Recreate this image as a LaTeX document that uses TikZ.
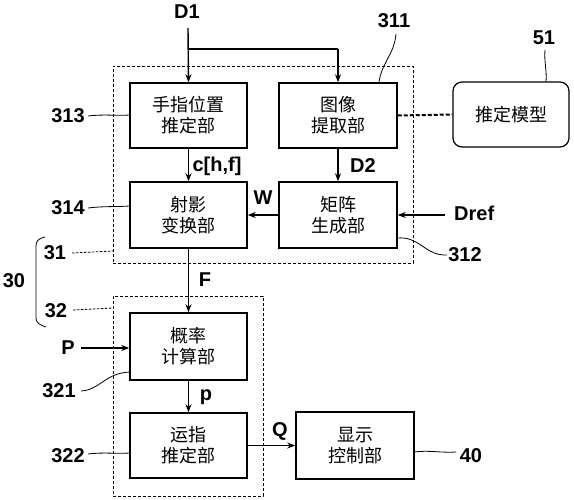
\documentclass[tikz,border=0pt]{standalone}
\usepackage{fontspec}
\setmainfont{Liberation Sans}
\newfontfamily\cjk{Noto Sans CJK SC}
\usetikzlibrary{arrows.meta}
\tikzset{
  blk/.style={draw, line width=1.5pt, inner sep=0pt, align=center,
    font=\cjk\fontsize{18}{21}\selectfont},
  grp/.style={draw, dashed, line width=0.9pt, inner sep=0pt, dash pattern=on 3pt off 2pt},
  lbl/.style={anchor=base, inner sep=1pt, font=\bfseries\fontsize{20}{22}\selectfont},
  arr/.style={line width=1.4pt, -{Stealth[length=8pt,width=6pt]}},
  ldr/.style={line width=0.8pt},
  dldr/.style={line width=0.8pt, dashed, dash pattern=on 2.5pt off 1.5pt},
}
\begin{document}
\begin{tikzpicture}[x=1pt,y=-1pt]
\useasboundingbox (0,0) rectangle (574,500);
% group boxes
\node[grp, minimum width=300pt, minimum height=197pt] (g31) at (263,164.5) {};
\node[grp, minimum width=150pt, minimum height=200pt] (g32) at (188,396) {};
% blocks
\node[blk, minimum width=117pt, minimum height=65pt] (b313) at (188.5,115.5) {手指位置\\推定部};
\node[blk, minimum width=118pt, minimum height=65pt] (b311) at (338,115.5) {图像\\提取部};
\node[blk, minimum width=117pt, minimum height=66pt] (b314) at (188.5,215) {射影\\变换部};
\node[blk, minimum width=118pt, minimum height=66pt] (b312) at (338,215) {矩阵\\生成部};
\node[blk, rounded corners=9pt, line width=1.2pt, minimum width=116pt, minimum height=65pt] (b51) at (511,114.5) {推定模型};
\node[blk, minimum width=117pt, minimum height=67pt] (b321) at (188.5,346.5) {概率\\计算部};
\node[blk, minimum width=117pt, minimum height=65pt] (b322) at (188.5,445.5) {运指\\推定部};
\node[blk, minimum width=118pt, minimum height=67pt] (b40) at (355,445.5) {显示\\控制部};
% signal labels
\node[lbl] (d1) at (187,19) {D1};
\node[lbl] (chf) at (217,172) {c[h,f]};
\node[lbl] (d2) at (363,173) {D2};
\node[lbl] (w) at (263,205) {W};
\node[lbl, anchor=base west] (dref) at (453,221) {Dref};
\node[lbl] (f) at (205,287) {F};
\node[lbl] (pp) at (68,355) {P};
\node[lbl] (ps) at (206,400) {p};
\node[lbl] (q) at (280,436) {Q};
% reference numerals
\node[lbl] (n311) at (394,28) {311};
\node[lbl] (n51) at (544,45) {51};
\node[lbl] (n313) at (68,123) {313};
\node[lbl] (n314) at (68,215) {314};
\node[lbl] (n312) at (465,262) {312};
\node[lbl] (n31) at (55,260) {31};
\node[lbl] (n32) at (56,318) {32};
\node[lbl] (n30) at (14,288) {30};
\node[lbl] (n321) at (59,397) {321};
\node[lbl] (n322) at (68,462) {322};
\node[lbl] (n40) at (471,462) {40};
% connectors
\coordinate (d1s) at (188,28);
\coordinate (br) at (188,49);
\coordinate (brr) at (338,49);
\draw[arr] (d1s) -- (b313.north);
\draw[line width=1.4pt] (br) -- (brr);
\draw[arr] (brr) -- (b311.north);
\draw[arr] (b313.south) -- (b314.north);
\draw[arr] (b311.south) -- (b312.north);
\draw[arr] (b312.west) -- (b314.east);
\coordinate (drefs) at (445,215);
\draw[arr] (drefs) -- (b312.east);
\draw[line width=2pt, dashed, dash pattern=on 4pt off 2pt] (b311.east) -- (b51.west);
\draw[arr] (b314.south) -- (b321.north);
\coordinate (ps0) at (81,348);
\draw[arr] (ps0) -- (b321.west |- ps0);
\draw[arr] (b321.south) -- (b322.north);
\draw[arr] (b322.east) -- (b40.west);
% leaders
\draw[ldr] (88,116) .. controls (105,114) and (115,116) .. (130,115);
\draw[ldr] (88,208) .. controls (105,206) and (115,207) .. (130,206);
\draw[ldr] (88,454) .. controls (105,452) and (115,454) .. (130,453);
\draw[ldr] (396,34) .. controls (394,55) and (382,62) .. (379,82);
\draw[ldr] (545,50) .. controls (544,62) and (547,70) .. (546,82);
\draw[ldr] (397,238) .. controls (420,236) and (425,256) .. (447,255);
\draw[ldr] (414,452) .. controls (430,450) and (440,453) .. (456,452);
\draw[ldr] (81,391) .. controls (100,390) and (105,373) .. (130,372);
\draw[dldr] (72,253) -- (113,251);
\draw[dldr] (73,310) -- (113,308);
\draw[ldr] (45,237) .. controls (38,239) and (36,241) .. (36,246) -- (36,318) .. controls (36,323) and (40,325) .. (46,327);
\end{tikzpicture}
\end{document}
